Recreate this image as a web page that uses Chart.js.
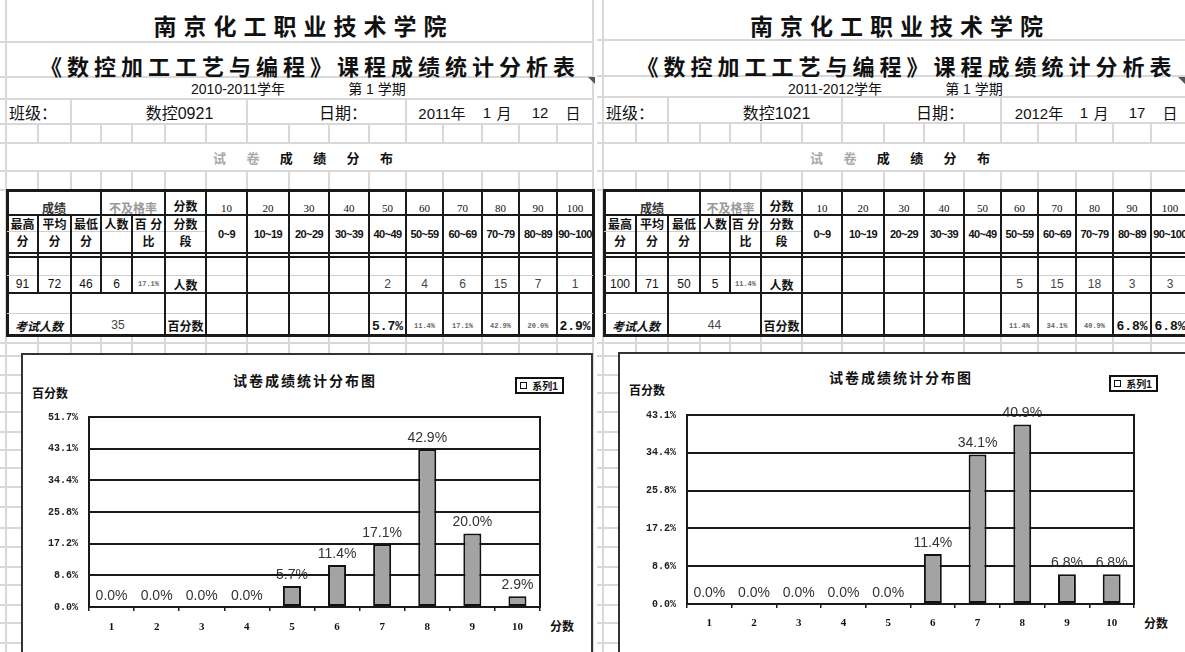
<!DOCTYPE html>
<html>
<head>
<meta charset="utf-8">
<script src="https://cdn.jsdelivr.net/npm/chart.js@4.4.0/dist/chart.umd.min.js"></script>
<style>
  html, body { margin: 0; padding: 0; background: #fff; }
  #page { position: relative; width: 1185px; height: 652px; overflow: hidden;
          font-family: "Liberation Sans", "Noto Sans CJK SC", sans-serif; color: #111; }
  #page div { position: absolute; box-sizing: border-box; }
  #page .t { display: flex; align-items: center; justify-content: center; white-space: nowrap; }
  canvas { position: absolute; }
</style>
</head>
<body>
<div id="page"></div>
<script>
// ===== Data =====
const schoolName = '南京化工职业技术学院';
const reportTitle = '《数控加工工艺与编程》课程成绩统计分析表';
const binTops = ['10', '20', '30', '40', '50', '60', '70', '80', '90', '100'];
const binRanges = ['0~9', '10~19', '20~29', '30~39', '40~49', '50~59', '60~69', '70~79', '80~89', '90~100'];
const headTop = ['最高', '平均', '最低', '人数', '百 分', '分数'];
const headBottom = ['分', '分', '分', '', '比', '段'];
const chartCategories = ['1', '2', '3', '4', '5', '6', '7', '8', '9', '10'];

// 2010-2011 sheet
const leftYear = '2010-2011学年';
const leftClass = '数控0921';
const leftDate = ['2011年', '1', '月', '12', '日'];
const leftSummary = ['91', '72', '46', '6', '17.1%'];
const leftTotal = '35';
const leftCounts = [null, null, null, null, 2, 4, 6, 15, 7, 1];
const leftPercents = [0, 0, 0, 0, 5.7, 11.4, 17.1, 42.9, 20.0, 2.9];
const leftTickValues = [0, 8.62, 17.23, 25.85, 34.47, 43.08, 51.7];
const leftTickLabels = ['0.0%', '8.6%', '17.2%', '25.8%', '34.4%', '43.1%', '51.7%'];

// 2011-2012 sheet
const rightYear = '2011-2012学年';
const rightClass = '数控1021';
const rightDate = ['2012年', '1', '月', '17', '日'];
const rightSummary = ['100', '71', '50', '5', '11.4%'];
const rightTotal = '44';
const rightCounts = [null, null, null, null, null, 5, 15, 18, 3, 3];
const rightPercents = [0, 0, 0, 0, 0, 11.4, 34.1, 40.9, 6.8, 6.8];
const rightTickValues = [0, 8.62, 17.23, 25.85, 34.47, 43.08];
const rightTickLabels = ['0.0%', '8.6%', '17.2%', '25.8%', '34.4%', '43.1%'];

// ===== Helpers =====
const page = document.getElementById('page');
const GRID = '#d8d8d8';
const INK = '#1a1a1a';

function el(x, y, w, h, css, html) {
  const d = document.createElement('div');
  d.style.cssText = `left:${x}px;top:${y}px;width:${w}px;height:${h}px;` + (css || '');
  if (html !== undefined) { d.className = 't'; d.innerHTML = html; }
  page.appendChild(d);
  return d;
}
function hl(x1, x2, y, t, c) { el(x1, y - t / 2, x2 - x1, t, `background:${c}`); }
function vl(x, y1, y2, t, c) { el(x - t / 2, y1, t, y2 - y1, `background:${c}`); }
function txt(s, x1, x2, y, css) { return el(x1, y - 12, x2 - x1, 24, css || '', s); }

function pctText(v) { return v.toFixed(1) + '%'; }
// long percentages are shrunk to fit the narrow cells
function pctCss(s) {
  return s.length > 4
    ? 'font-size:7px;color:#666;font-family:"Liberation Mono";font-weight:700;'
    : 'font-size:13px;font-weight:700;font-family:"Liberation Mono";';
}

// ===== Spreadsheet =====
function drawSheet(sh) {
  const c = sh.cols, x0 = c[0], r = sh.rowLines;
  const left = sh.gridLeft, right = Math.min(c[16], 1185);

  // background grid
  vl(x0 - 1, 0, 652, 2, GRID);
  vl(c[16], 0, 652, 2, GRID);
  r.forEach((y) => hl(left, right, y, 2, GRID));
  hl(left, right, 190, 2, GRID);
  sh.bottomLines.forEach((y) => hl(left, right, y, 2, GRID));
  [2, 7, 11].forEach((i) => vl(c[i], r[2], r[3], 2, GRID));
  c.slice(1, 16).forEach((x) => {
    vl(x, r[3], r[4], 2, GRID);
    vl(x, r[5], 190, 2, GRID);
    vl(x, 335, 356, 2, GRID);
  });

  // header texts
  txt(schoolName, x0, c[16], 25, 'font-size:23px;font-weight:700;letter-spacing:7px;padding-left:7px;font-family:"Noto Sans CJK SC";');
  txt(reportTitle, x0 + 10, c[16] + 10, 65, 'font-size:22px;font-weight:700;letter-spacing:5px;font-family:"Noto Sans CJK SC";');
  txt(sh.year, x0 + 176, x0 + 286, 88, 'font-size:14px;');
  txt('第 1 学期', x0 + 330, x0 + 410, 88, 'font-size:14px;');
  txt('班级：', x0 + 2, x0 + 50, 112, 'font-size:16px;justify-content:flex-start;');
  txt(sh.className, x0 + 130, x0 + 215, 112, 'font-size:16px;');
  txt('日期：', x0 + 310, x0 + 362, 112, 'font-size:16px;');
  const datePos = [435, 480, 497, 533, 566];
  sh.date.forEach((s, i) => txt(s, x0 + datePos[i] - 30, x0 + datePos[i] + 30, 112, 'font-size:15px;'));
  txt('<span style="color:#aaa">试</span><span style="color:#aaa">卷</span><span>成</span><span>绩</span><span>分</span><span>布</span>',
    x0 + 200, x0 + 392, 157, 'font-size:13px;font-weight:700;justify-content:space-between;padding:0 6px;');

  // comment marker
  el(sh.markerX, 77, 0, 0, 'border-top:7px solid #555;border-left:7px solid transparent;');

  // table lines
  const T = 190, B = 335;
  el(x0 - 1.5, T - 1.5, c[16] - x0 + 3, B - T + 3, 'border:3px solid ' + INK + ';');
  hl(x0, c[16], 215, 2, INK);
  hl(x0, c[6], 231, 1, '#cfcfcf');
  hl(x0, c[16], 253, 1.5, INK);
  hl(x0, c[16], 257, 1.5, INK);
  hl(x0, c[16], 275, 1, '#cfcfcf');
  hl(x0, c[16], 293, 2, INK);
  hl(x0, c[16], 313, 1, '#cfcfcf');
  [3, 5].concat([6, 7, 8, 9, 10, 11, 12, 13, 14, 15]).forEach((i) => vl(c[i], T, 215, 2, INK));
  c.slice(1, 16).forEach((x) => vl(x, 215, 293, 2, INK));
  [2, 5, 6, 7, 8, 9, 10, 11, 12, 13, 14, 15].forEach((i) => vl(c[i], 293, B, 2, INK));

  // table texts
  const hdr = 'font-size:12px;font-weight:700;';
  txt('成绩', c[0], c[3], 207, hdr + 'color:#333;');
  txt('不及格率', c[3], c[5], 207, hdr + 'color:#999;');
  txt('分数', c[5], c[6], 205, hdr);
  binTops.forEach((s, i) => txt(s, c[6 + i], c[7 + i], 208, 'font-size:11px;font-family:"Liberation Serif";'));
  headTop.forEach((s, i) => txt(s, c[i], c[i + 1], 223, hdr));
  headBottom.forEach((s, i) => txt(s, c[i], c[i + 1], 240, hdr));
  binRanges.forEach((s, i) => txt(s, c[6 + i], c[7 + i], 234, 'font-size:11px;font-weight:700;letter-spacing:-0.6px;overflow:hidden;'));

  sh.summary.forEach((s, i) => txt(s, c[i], c[i + 1], 284, s.length > 4 ? pctCss(s) : 'font-size:12px;'));
  txt('人数', c[5], c[6], 284, hdr);
  sh.counts.forEach((v, i) => {
    if (v !== null) txt(String(v), c[6 + i], c[7 + i], 284, 'font-size:12px;color:#444;');
  });

  txt('考试人数', c[0], c[2], 325, hdr + 'font-style:italic;');
  txt(sh.total, c[2], c[5], 325, 'font-size:12px;color:#444;');
  txt('百分数', c[5], c[6], 325, hdr);
  sh.counts.forEach((v, i) => {
    if (v !== null) {
      const s = pctText(sh.percents[i]);
      txt(s, c[6 + i], c[7 + i], 326, pctCss(s));
    }
  });
}

const bottomLines = [343, 356, 375, 393, 412, 432, 450, 468, 487, 507, 528, 547, 567, 585, 605, 623, 643];

drawSheet({
  cols: [7, 38, 71, 101, 132, 165, 206, 247, 289, 329, 369, 406, 443, 482, 519, 557, 593],
  rowLines: [42, 77, 99, 124, 143, 171],
  bottomLines, gridLeft: 0, markerX: 588,
  year: leftYear, className: leftClass, date: leftDate,
  summary: leftSummary, total: leftTotal, counts: leftCounts, percents: leftPercents,
});
drawSheet({
  cols: [604, 636, 668, 700, 730, 761, 802, 842, 884, 924, 964, 1001, 1038, 1076, 1113, 1151, 1189],
  rowLines: [40, 76, 97, 123, 143, 171],
  bottomLines, gridLeft: 597, markerX: 1178,
  year: rightYear, className: rightClass, date: rightDate,
  summary: rightSummary, total: rightTotal, counts: rightCounts, percents: rightPercents,
});

// ===== Charts =====
const valueLabels = {
  id: 'valueLabels',
  afterDatasetsDraw(chart) {
    const ctx = chart.ctx;
    const ds = chart.data.datasets[0];
    ctx.save();
    ctx.font = '14px "Liberation Sans"';
    ctx.fillStyle = '#333';
    ctx.textAlign = 'center';
    ctx.textBaseline = 'bottom';
    chart.getDatasetMeta(0).data.forEach((bar, i) => {
      ctx.fillText(pctText(ds.data[i]), bar.x, bar.y - 4);
    });
    ctx.restore();
  },
};
const plotFrame = {
  id: 'plotFrame',
  afterDraw(chart) {
    const a = chart.chartArea, ctx = chart.ctx;
    ctx.save();
    ctx.strokeStyle = INK;
    ctx.lineWidth = 2;
    ctx.strokeRect(a.left, a.top, a.right - a.left, a.bottom - a.top);
    ctx.restore();
  },
};

function drawChart(g, values, tickValues, tickLabels) {
  // frame box, title, axis names and legend
  el(g.boxX, g.boxY, g.boxW, 340, 'background:#fff;border:2px solid #333;');
  txt('试卷成绩统计分布图', g.titleX - 90, g.titleX + 90, g.titleY, 'font-size:14px;font-weight:700;letter-spacing:2px;');
  txt('百分数', g.yNameX, g.yNameX + 40, g.yNameY, 'font-size:12px;font-weight:700;');
  txt('分数', g.xNameX, g.xNameX + 28, g.xNameY, 'font-size:12px;font-weight:700;');
  el(g.legX, g.legY, 49, 17, 'background:#fff;border:2px solid #111;');
  el(g.legX + 5, g.legY + 5, 7, 7, 'border:1px solid #111;background:#fff;');
  txt('系列1', g.legX + 13, g.legX + 47, g.legY + 8.5, 'font-size:10px;font-weight:700;');

  const canvas = document.createElement('canvas');
  canvas.width = g.w;
  canvas.height = g.h;
  canvas.style.left = g.x + 'px';
  canvas.style.top = g.y + 'px';
  page.appendChild(canvas);

  return new Chart(canvas.getContext('2d'), {
    type: 'bar',
    data: {
      labels: chartCategories,
      datasets: [{
        label: '系列1',
        data: values,
        backgroundColor: '#a3a3a3',
        borderColor: '#111',
        borderWidth: (ctx) => (ctx.raw > 0 ? 2 : 0),
        borderSkipped: false,
        barPercentage: 0.4,
        categoryPercentage: 1,
      }],
    },
    options: {
      responsive: false,
      animation: false,
      devicePixelRatio: 1,
      layout: { padding: { left: 0, top: g.top, right: g.w - g.right, bottom: g.bottomPad } },
      plugins: { legend: { display: false }, tooltip: { enabled: false } },
      scales: {
        x: {
          grid: { drawOnChartArea: false, tickLength: 4, color: INK, lineWidth: 1.5 },
          border: { display: false },
          ticks: { color: '#111', padding: g.xPad, font: { family: 'Liberation Serif', size: 11, weight: 'bold' } },
          afterFit: (s) => { s.height = 30; },
        },
        y: {
          min: 0,
          max: tickValues[tickValues.length - 1],
          afterBuildTicks: (s) => { s.ticks = tickValues.map((v) => ({ value: v })); },
          grid: { color: INK, lineWidth: 2, drawTicks: false },
          border: { display: false },
          ticks: {
            color: '#222',
            padding: 11,
            font: { family: 'Liberation Mono', size: 10, weight: 'bold' },
            callback: (v, i) => tickLabels[i],
          },
          afterFit: (s) => { s.width = g.left; },
        },
      },
    },
    plugins: [valueLabels, plotFrame],
  });
}

drawChart({
  boxX: 21, boxY: 353, boxW: 572, x: 23, y: 355, w: 567, h: 297,
  left: 66, top: 62, right: 517, bottomPad: 15, xPad: 10,
  titleX: 305, titleY: 380, yNameX: 30, yNameY: 392, xNameX: 548, xNameY: 625,
  legX: 515, legY: 377,
}, leftPercents, leftTickValues, leftTickLabels);

drawChart({
  boxX: 618, boxY: 352, boxW: 640, x: 620, y: 354, w: 565, h: 298,
  left: 67, top: 61, right: 514, bottomPad: 18, xPad: 9,
  titleX: 901, titleY: 377, yNameX: 627, yNameY: 389, xNameX: 1142, xNameY: 622,
  legX: 1109, legY: 375,
}, rightPercents, rightTickValues, rightTickLabels);
</script>
</body>
</html>
